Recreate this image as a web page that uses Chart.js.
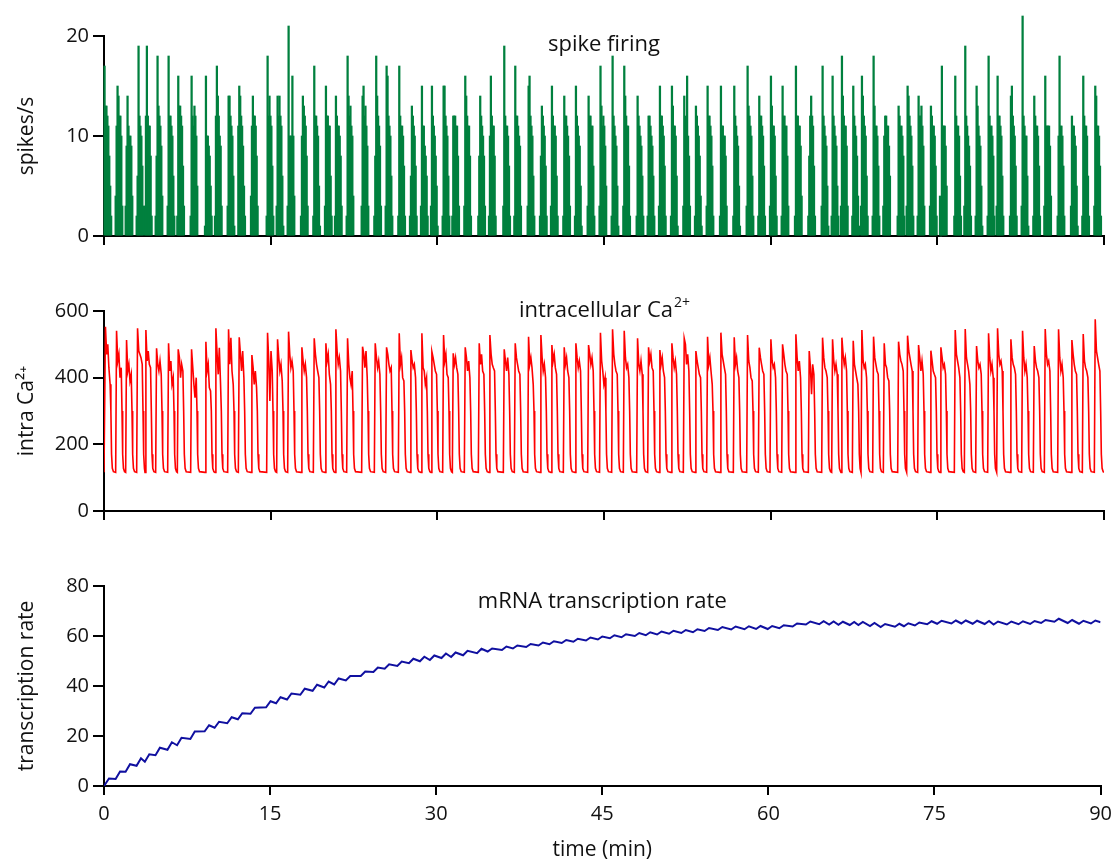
<!DOCTYPE html>
<html lang="en">
<head>
<meta charset="UTF-8">
<title>Spike firing, Ca2+ and transcription</title>
<script src="https://cdn.jsdelivr.net/npm/chart.js"></script>
<style>
    html, body { margin: 0; padding: 0; background: #fff; overflow: hidden; }
    .panel { position: absolute; left: 0; }
</style>
</head>
<body>

<div class="panel" style="top:0px"><canvas id="spikeChart" width="1119" height="262"></canvas></div>
<div class="panel" style="top:270px"><canvas id="caChart" width="1119" height="275"></canvas></div>
<div class="panel" style="top:545px"><canvas id="txChart" width="1119" height="340"></canvas></div>

<script>
// ---- data ----

// start of each firing burst (min)
var burstStart = [0.05, 1.05, 1.95, 2.94, 3.69, 4.65, 5.73, 6.60, 7.80, 9.09,
    9.99, 11.13, 12.09, 13.23, 14.64, 15.54, 16.53, 17.73, 18.84, 19.89,
    20.79, 21.84, 23.19, 24.33, 25.35, 26.49, 27.54, 28.53, 29.43, 30.48,
    31.35, 32.43, 33.69, 34.65, 35.94, 36.93, 38.13, 39.24, 40.23, 41.34,
    42.39, 43.53, 44.60, 45.69, 46.74, 47.94, 48.93, 49.95, 51.03, 52.14,
    53.19, 54.24, 55.44, 56.64, 57.84, 58.89, 59.94, 60.99, 62.19, 63.39,
    64.59, 65.49, 66.33, 67.35, 68.13, 69.18, 70.14, 71.43, 72.24, 73.23,
    74.34, 75.24, 76.53, 77.43, 78.45, 79.53, 80.34, 81.54, 82.59, 83.64,
    84.63, 85.83, 87.03, 88.05, 89.13];

// spikes/s in consecutive bins of each burst
var binWidth = 0.085;
var spikeBins = [
    [17,13,13,12,11,8,5,2], [4,11,15,14,12,12,10,3], [3,9,14,11,10,10,9,4], [2,6,19,12,11,10,7,3], [3,12,19,12,11,11,8,2],
    [2,8,18,13,12,11,9,4], [3,18,12,12,11,10,6,2], [2,16,13,13,12,11,7,3], [2,16,12,11,13,12,10,5], [1,16,10,10,9,8,5,2],
    [2,12,17,14,12,10,9,3], [3,14,14,12,11,10,6,1], [11,15,14,12,11,9,5,2], [4,11,14,12,12,11,8,3], [2,18,12,14,12,11,7,2],
    [3,14,12,14,12,11,6,1], [3,21,10,10,10,16,10,4], [2,10,14,13,12,11,8,3], [2,17,12,12,11,10,5,1], [3,15,12,12,11,11,6,2],
    [2,14,12,11,11,10,8,3], [2,18,14,12,13,11,10,4], [3,14,15,12,13,11,9,3], [2,8,18,14,12,11,9,3], [3,17,16,12,11,10,6,2],
    [2,17,12,11,11,10,7,2], [2,6,13,12,11,10,7,2], [3,15,11,11,9,8,6,2], [3,15,12,11,10,8,5,1], [2,15,15,12,11,10,6,2],
    [2,12,12,12,11,11,8,3], [3,16,14,12,11,11,8,2], [2,8,14,12,11,10,8,3], [2,10,16,12,11,11,8,2], [3,19,12,11,11,10,7,2],
    [2,17,12,12,11,10,9,3], [3,15,16,12,11,10,6,2], [2,8,13,12,11,10,7,2], [3,15,12,11,11,10,6,2], [2,14,12,12,11,10,8,3],
    [2,15,12,11,10,9,5,1], [3,14,12,12,11,11,7,2], [3,17,13,11,12,11,9,5], [2,18,12,11,10,9,5,1], [3,17,14,12,11,11,7,2],
    [2,14,12,11,10,9,6,2], [2,12,12,11,10,9,6,2], [3,15,12,12,11,10,7,2], [2,15,13,11,11,10,6,1], [3,14,12,11,16,10,8,3],
    [2,13,12,11,10,8,4,1], [3,15,12,12,11,10,7,2], [2,15,11,11,10,10,8,3], [2,15,12,11,10,9,5,1], [3,17,13,12,11,10,6,2],
    [2,14,12,12,11,10,7,2], [3,16,13,11,11,10,6,2], [2,15,12,12,11,11,8,3], [2,17,12,12,11,11,9,4], [2,8,12,14,12,11,7,2],
    [3,17,12,11,10,9,5,1], [2,16,12,11,10,9,5,2], [3,18,14,12,11,11,9,3], [2,15,12,11,10,8,4,1], [3,16,14,12,11,10,6,2],
    [2,18,13,11,11,10,7,2], [3,10,12,12,11,11,9,6], [2,13,12,11,11,10,8,2], [3,15,14,12,11,10,7,2], [2,14,12,12,13,11,9,3],
    [3,13,12,11,11,10,7,2], [4,0,17,11,11,11,9,5], [2,16,12,11,11,10,6,2], [3,19,12,11,10,9,7,2], [2,15,13,11,10,9,5,1],
    [2,18,12,11,11,10,8,2], [3,16,12,12,11,10,6,2], [2,14,15,12,11,10,7,2], [3,22,12,11,10,10,6,1], [2,14,12,11,11,10,7,2],
    [3,16,11,11,11,11,9,4], [2,10,18,11,11,10,7,2], [3,12,11,11,10,9,5,1], [2,16,12,11,11,10,6,2], [3,15,14,11,11,10,7,2]
];

// intracellular Ca2+: peak and plateau samples of each cycle
var caLevels = [
    [553,470,500,430,380], [541,450,470,400,430], [513,420,440,390,410], [548,480,470,460,440], [543,450,480,440,430],
    [488,440,420,450,410], [503,420,450,380,400], [485,460,400,440,420], [485,430,380,340,400], [508,420,440,370,360],
    [548,470,410,490,380], [545,440,520,420,380], [521,470,420,480,400], [468,430,380,420,370], [535,450,330,480,420],
    [515,460,420,440,390], [538,470,430,450,420], [491,450,420,440,400], [518,470,440,420,400], [503,450,470,410,380],
    [545,480,440,460,420], [518,440,400,380,420], [493,470,430,480,400], [503,460,430,450,410], [491,470,440,420,430],
    [533,440,460,400,390], [483,450,430,440,400], [533,430,420,380,400], [478,460,440,420,410], [528,450,470,410,400],
    [473,440,460,430,410], [491,460,420,450,400], [503,440,470,420,410], [528,470,440,430,420], [485,450,420,460,410],
    [503,460,440,420,410], [523,440,460,430,380], [528,460,420,440,400], [498,450,470,430,410], [491,440,460,420,400],
    [503,460,430,450,420], [498,470,440,460,420], [535,450,420,380,400], [545,470,440,420,410], [541,460,430,440,400],
    [518,440,420,450,410], [491,450,470,430,420], [483,440,460,420,400], [503,460,430,450,410], [518,500,440,470,420],
    [480,450,430,410,400], [523,440,460,420,380], [535,470,450,430,410], [521,440,460,420,400], [528,450,430,400,390],
    [490,460,440,420,410], [515,450,430,440,400], [500,470,440,420,410], [530,460,420,450,400], [480,430,350,440,410],
    [520,460,430,420,400], [515,450,420,440,410], [520,470,440,460,420], [511,440,420,400,380], [543,450,430,440,400],
    [523,460,440,420,410], [503,440,430,400,390], [508,470,450,440,420], [526,480,460,440,420], [498,460,420,450,410],
    [481,450,420,410,400], [491,460,430,440,410], [543,470,450,430,400], [546,460,440,420,380], [495,450,430,440,410],
    [533,460,420,440,400], [548,470,440,450,420], [515,460,440,430,410], [541,460,420,440,400], [495,450,430,420,400],
    [546,470,440,450,420], [545,460,420,440,400], [513,470,440,420,410], [531,450,430,420,400], [575,480,460,440,420]
];
var caLevelTimes = [0.08, 0.19, 0.29, 0.39, 0.50];  // min after burst start
var caFall = [300, 170, 128, 118];                  // decay back to rest
var caFallTimes = [0.57, 0.63, 0.70, 0.80];
var caRest = 116;

// mRNA transcription rate just before and just after each burst
var txLow = [0.0, 2.8, 5.7, 8.1, 9.7, 12.3, 14.5, 16.3, 18.8, 21.9,
    23.3, 25.1, 26.7, 28.9, 31.5, 33.1, 34.6, 36.5, 38.1, 39.4,
    40.6, 42.2, 44.0, 45.6, 46.9, 48.0, 49.1, 49.9, 50.4, 51.2,
    51.6, 52.3, 53.1, 53.8, 54.4, 55.0, 55.6, 56.2, 56.7, 57.2,
    57.7, 58.2, 58.6, 59.1, 59.5, 60.0, 60.3, 60.6, 60.9, 61.2,
    61.5, 62.0, 62.4, 62.6, 62.7, 62.8, 62.8, 63.1, 63.8, 64.6,
    64.7, 64.6, 64.5, 64.4, 64.4, 64.0, 63.6, 63.7, 63.9, 64.2,
    64.7, 64.9, 65.0, 65.0, 64.9, 64.8, 64.6, 64.6, 64.7, 64.8,
    65.2, 65.7, 65.2, 64.9, 65.0];
var txHigh = [3.0, 5.8, 8.7, 11.1, 12.7, 15.3, 17.5, 19.3, 21.8, 24.3,
    25.7, 27.5, 29.1, 31.3, 33.9, 35.5, 37.0, 38.9, 40.5, 41.8,
    43.0, 44.0, 45.8, 47.4, 48.7, 49.8, 50.9, 51.7, 52.2, 53.0,
    53.4, 54.1, 54.9, 55.0, 55.8, 56.2, 56.8, 57.4, 57.9, 58.4,
    58.9, 59.4, 59.8, 60.3, 60.7, 61.2, 61.5, 61.8, 62.1, 62.4,
    62.7, 63.2, 63.6, 63.8, 63.9, 64.0, 64.0, 64.3, 65.0, 65.8,
    65.9, 65.8, 65.7, 65.6, 65.6, 65.2, 64.8, 64.9, 65.1, 65.4,
    65.9, 66.1, 66.2, 66.2, 66.1, 66.0, 65.8, 65.8, 65.9, 66.0,
    66.4, 66.9, 66.4, 66.1, 66.2];
var txRiseTime = 0.4;
var txEnd = 65.5;

var timeTicks = [0, 15, 30, 45, 60, 75, 90];

// ---- build point lists ----
var spikePoints = [];
for (var i = 0; i < burstStart.length; i++) {
    for (var k = 0; k < spikeBins[i].length; k++) {
        spikePoints.push({ x: burstStart[i] + k * binWidth, y: spikeBins[i][k] });
    }
}

var caPoints = [{ x: 0, y: caRest }];
for (var i = 0; i < burstStart.length; i++) {
    var t0 = burstStart[i];
    var next = i + 1 < burstStart.length ? burstStart[i + 1] : 90;
    caPoints.push({ x: t0, y: caRest });
    for (var k = 0; k < caLevelTimes.length; k++) {
        caPoints.push({ x: t0 + caLevelTimes[k], y: caLevels[i][k] });
    }
    for (var k = 0; k < caFallTimes.length; k++) {
        if (t0 + caFallTimes[k] < next - 0.03) caPoints.push({ x: t0 + caFallTimes[k], y: caFall[k] });
    }
}
caPoints.push({ x: 90, y: caRest });

var txPoints = [{ x: 0, y: 0 }];
for (var i = 0; i < burstStart.length; i++) {
    txPoints.push({ x: burstStart[i], y: txLow[i] });
    txPoints.push({ x: burstStart[i] + txRiseTime, y: txHigh[i] });
}
txPoints.push({ x: 90, y: txEnd });

// ---- chart setup ----
Chart.defaults.font.family = "'Open Sans', 'Noto Sans', sans-serif";
Chart.defaults.color = '#111';

var FONT_TICK = 20;
var FONT_TITLE = 21;

// text label inside the plot area, with optional superscript
var panelTitle = {
    id: 'panelTitle',
    afterDraw: function(chart, args, opts) {
        if (!opts.text) return;
        var ctx = chart.ctx;
        var a = chart.chartArea;
        var size = opts.size || 22;
        ctx.save();
        ctx.fillStyle = '#111';
        ctx.textBaseline = 'middle';
        ctx.font = size + "px 'Open Sans', sans-serif";
        var w = ctx.measureText(opts.text).width;
        var supW = 0;
        if (opts.sup) {
            ctx.font = Math.round(size * 0.62) + "px 'Open Sans', sans-serif";
            supW = ctx.measureText(opts.sup).width;
        }
        var x = (a.left + a.right) / 2 - (w + supW) / 2;
        ctx.font = size + "px 'Open Sans', sans-serif";
        ctx.textAlign = 'left';
        ctx.fillText(opts.text, x, opts.y);
        if (opts.sup) {
            ctx.font = Math.round(size * 0.62) + "px 'Open Sans', sans-serif";
            ctx.fillText(opts.sup, x + w + 1, opts.y - size * 0.35);
        }
        ctx.restore();
    }
};

function xScale(height, showLabels) {
    return {
        type: 'linear',
        min: 0, max: 90,
        offset: false,
        afterBuildTicks: function(s) { s.ticks = timeTicks.map(function(v) { return { value: v }; }); },
        ticks: { display: showLabels, font: { size: FONT_TICK }, padding: 7, color: '#111', maxRotation: 0 },
        grid: { offset: false, drawOnChartArea: false, drawTicks: true, tickLength: 9, color: '#000', lineWidth: 2 },
        border: { display: true, color: '#000', width: 2 },
        title: showLabels ? { display: true, text: 'time (min)', font: { size: FONT_TITLE }, color: '#111', padding: { top: 0, bottom: 22 } } : { display: false },
        afterFit: function(s) { s.height = height; }
    };
}

function yScale(max, step, label) {
    return {
        min: 0, max: max,
        ticks: { stepSize: step, font: { size: FONT_TICK }, padding: 4, color: '#111' },
        grid: { drawOnChartArea: false, drawTicks: true, tickLength: 11, color: '#000', lineWidth: 2 },
        border: { display: true, color: '#000', width: 2 },
        title: { display: true, text: label, font: { size: FONT_TITLE }, color: '#111', padding: { top: 14, bottom: 0 } },
        afterFit: function(s) { s.width = 104; }
    };
}

function baseOptions(padTop, xs, ys, title) {
    return {
        responsive: false,
        animation: false,
        events: [],
        layout: { padding: { top: padTop, right: 15, left: 0, bottom: 0 } },
        plugins: { legend: { display: false }, tooltip: { enabled: false }, panelTitle: title },
        scales: { x: xs, y: ys }
    };
}

new Chart(document.getElementById('spikeChart'), {
    type: 'bar',
    data: {
        datasets: [{
            data: spikePoints,
            backgroundColor: '#00803e',
            borderWidth: 0,
            barThickness: 1.6,
            clip: false
        }]
    },
    options: baseOptions(36, xScale(26, false), yScale(20, 10, 'spikes/s'), { text: 'spike firing', y: 45 }),
    plugins: [panelTitle]
});

new Chart(document.getElementById('caChart'), {
    type: 'line',
    data: {
        datasets: [{
            data: caPoints,
            borderColor: '#ff0000',
            borderWidth: 1.6,
            pointRadius: 0,
            tension: 0,
            fill: false
        }]
    },
    options: baseOptions(41, xScale(34, false), yScale(600, 200, 'intra Ca\u00b2\u207a'), { text: 'intracellular Ca', sup: '2+', y: 41 }),
    plugins: [panelTitle]
});

new Chart(document.getElementById('txChart'), {
    type: 'line',
    data: {
        datasets: [{
            data: txPoints,
            borderColor: '#1010a0',
            borderWidth: 2,
            pointRadius: 0,
            tension: 0,
            fill: false
        }]
    },
    options: baseOptions(41, xScale(99, true), yScale(80, 20, 'transcription rate'), { text: 'mRNA transcription rate', y: 57 }),
    plugins: [panelTitle]
});
</script>
</body>
</html>
